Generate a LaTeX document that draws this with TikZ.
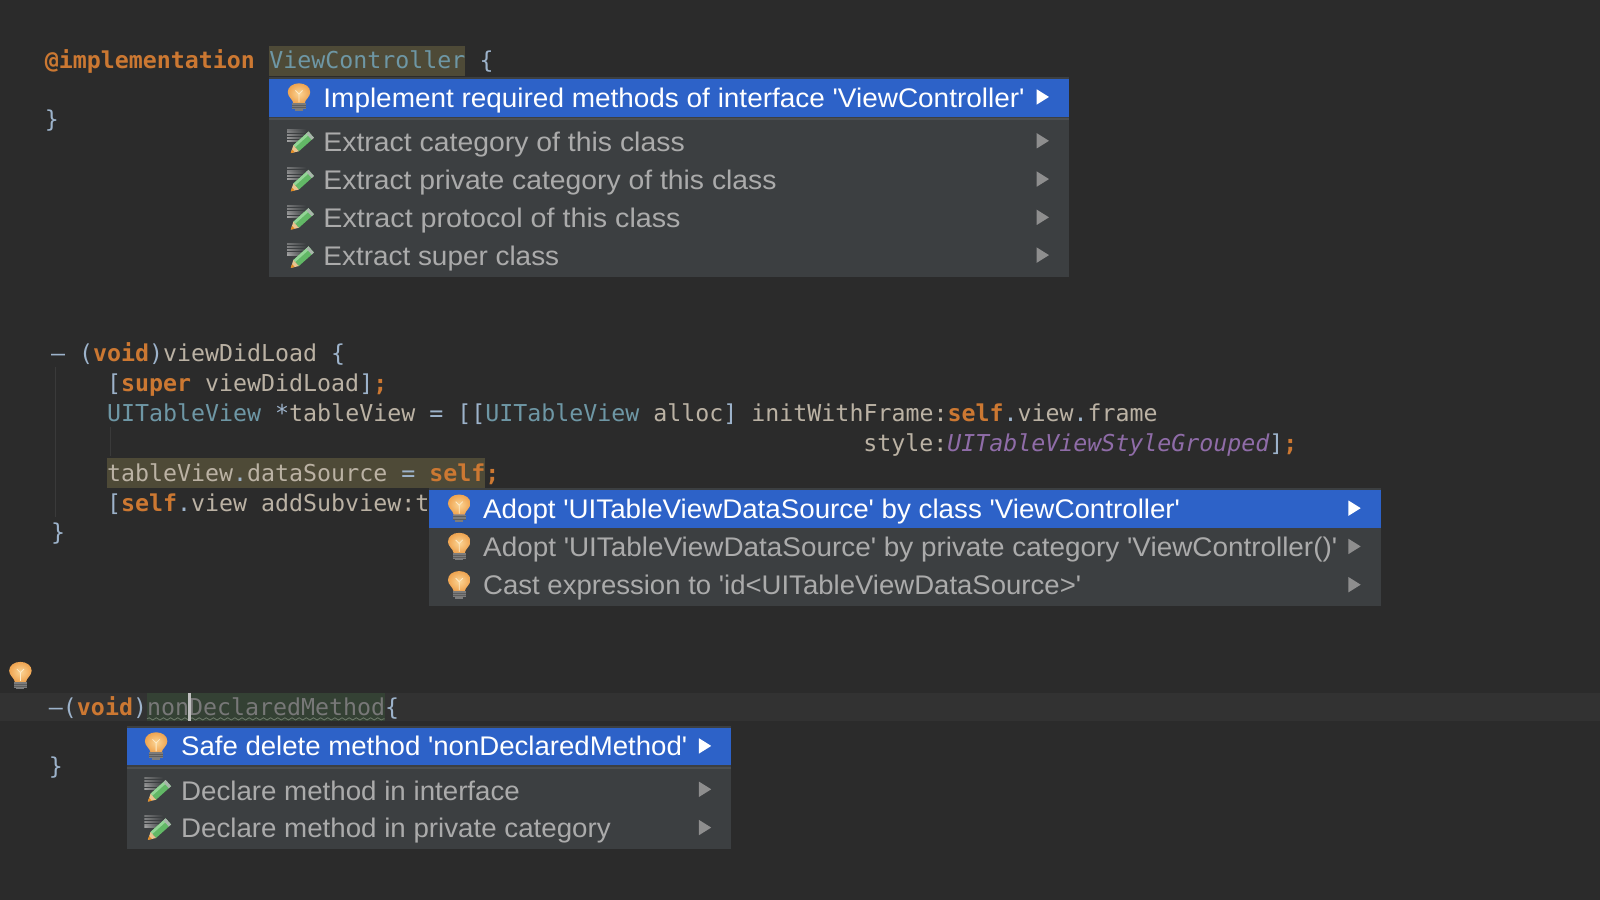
\documentclass[tikz,border=0pt]{standalone}
\usepackage{fontspec}
\usepackage{graphicx}
\usetikzlibrary{decorations.pathmorphing}
\newfontfamily\menufont{Liberation Sans}
\newfontfamily\codefont{DejaVu Sans Mono}
\definecolor{bgc}{HTML}{2B2B2B}
\definecolor{curline}{HTML}{323232}
\definecolor{kwc}{HTML}{CC7832}
\definecolor{clsc}{HTML}{6E97A5}
\definecolor{idc}{HTML}{BBB2A4}
\definecolor{pnc}{HTML}{9DB3CB}
\definecolor{enumc}{HTML}{8F6CA8}
\definecolor{unusedc}{HTML}{787878}
\definecolor{wavec}{HTML}{6E7A6A}
\definecolor{selc}{HTML}{4E4A37}
\definecolor{unselc}{HTML}{344134}
\definecolor{popc}{HTML}{3C3F41}
\definecolor{bluec}{HTML}{2D62C8}
\definecolor{sepc}{HTML}{4C4F51}
\definecolor{itemc}{HTML}{ABABAB}
\definecolor{arrc}{HTML}{8E8E8E}
\definecolor{guidec}{HTML}{3A3A3A}
\definecolor{bulbin}{HTML}{FBD596}
\definecolor{bulbout}{HTML}{EFA450}
\definecolor{bulbfil}{HTML}{FDEBC8}
\definecolor{bulbbase}{HTML}{7C7C7C}
\definecolor{bulbline}{HTML}{5E5E5E}
\definecolor{pengreen}{HTML}{62B866}
\definecolor{penlight}{HTML}{93D596}
\definecolor{penend}{HTML}{A9B5AB}
\definecolor{penwood}{HTML}{E8C490}
\definecolor{pentip}{HTML}{E58A1F}
\definecolor{penrule}{HTML}{A8A8A8}
\newcommand{\kw}[1]{\textcolor{kwc}{\bfseries #1}}
\newcommand{\cls}[1]{\textcolor{clsc}{#1}}
\newcommand{\idn}[1]{\textcolor{idc}{#1}}
\newcommand{\pn}[1]{\textcolor{pnc}{#1}}
\newcommand{\enm}[1]{\textcolor{enumc}{\itshape #1}}
\newcommand{\menuitem}[6]{\node[#1] (#2) at (#3,#4) {\resizebox{#5pt}{\height}{#6}};}
\newcommand{\arrowmark}[3]{\fill[#3] (#1,#2-7.5) -- (#1+12,#2) -- (#1,#2+7.5) -- cycle;}
\tikzset{
  x=1pt,y=-1pt,
  code/.style={anchor=base west,inner sep=0pt,outer sep=0pt,font=\codefont\fontsize{22.8}{27}\selectfont},
  mitem/.style={anchor=base west,inner sep=0pt,outer sep=0pt,text=itemc,font=\menufont\fontsize{26.4}{30}\selectfont},
  mitemsel/.style={mitem,text=white},
  bulbicon/.pic={
    \begin{scope}[shift={(0,1)},yscale=0.87]
    \shade[inner color=bulbin,outer color=bulbout]
      (-5.5,6) .. controls (-6,1.5) and (-11,-1) .. (-11,-6.5)
      .. controls (-11,-12.5) and (-6,-16.5) .. (0,-16.5)
      .. controls (6,-16.5) and (11,-12.5) .. (11,-6.5)
      .. controls (11,-1) and (6,1.5) .. (5.5,6) -- cycle;
    \draw[bulbfil,line width=0.8pt] (-3.5,-8.5) -- (0,-4.5) -- (3.5,-8.5) (0,-4.5) -- (0,5);
    \fill[bulbbase] (-6.5,6) rectangle (6.5,12.5);
    \fill[bulbbase] (-4,12.5) rectangle (4,14.5);
    \draw[bulbline,line width=0.8pt] (-6.5,8.6) -- (6.5,8.6) (-6.5,11) -- (6.5,11);
    \end{scope}
  },
  pencilicon/.pic={
    \foreach \yy/\op in {-11/0.55,-8.3/0.65,-5.6/0.75,-2.9/0.85,-0.2/0.95}{
      \shade[left color=penrule,right color=popc,opacity=\op] (-11.5,\yy-0.45) rectangle (7,\yy+0.45);
    }
    \fill[pengreen] (-0.12,10.27) -- (14.68,-3.03) -- (9.32,-8.97) -- (-5.48,4.33) -- cycle;
    \fill[penlight] (-3.7,6.3) -- (11.1,-7) -- (9.32,-8.97) -- (-5.48,4.33) -- cycle;
    \fill[penend] (12.45,-1.03) -- (14.68,-3.03) -- (9.32,-8.97) -- (7.09,-6.97) -- cycle;
    \fill[penwood] (-8,12) -- (-0.12,10.27) -- (-5.48,4.33) -- cycle;
    \fill[pentip] (-8,12) -- (-4.2,11.2) -- (-6.8,8.4) -- cycle;
  }
}
\begin{document}
\begin{tikzpicture}
\fill[bgc] (0,0) rectangle (1568,882);
\useasboundingbox (0,0) rectangle (1568,882);
% highlights and guides
\fill[selc] (264,45) rectangle (456,74);
\fill[selc] (105,449) rectangle (475,478);
\fill[curline] (0,679) rectangle (1568,707);
\fill[unselc] (144,679) rectangle (377,707);
\draw[guidec,line width=1pt] (54,360) -- (54,507);
\draw[guidec,line width=1pt] (108.5,418) -- (108.5,447);
% code
\node[code] (impl) at (44,67) {\kw{@implementation}};
\node[code] (vc) at (264,67) {\cls{ViewController}};
\node[code] (open1) at (470,67) {\pn{\{}};
\node[code] (close1) at (44,125) {\pn{\}}};
\node[code] (vdl) at (50,354) {\pn{– (}\kw{void}\pn{)}\idn{viewDidLoad} \pn{\{}};
\node[code] (sup) at (105,384) {\pn{[}\kw{super} \idn{viewDidLoad}\pn{]}\kw{;}};
\node[code] (tv) at (105,413) {\cls{UITableView} \pn{*}\idn{tableView} \pn{=} \pn{[[}\cls{UITableView} \idn{alloc}\pn{]} \idn{initWithFrame:}\kw{self}\pn{.}\idn{view}\pn{.}\idn{frame}};
\node[code] (sty) at (846,442) {\idn{style:}\enm{UITableViewStyleGrouped}\pn{]}\kw{;}};
\node[code] (ds) at (105,472) {\idn{tableView}\pn{.}\idn{dataSource} \pn{=} \kw{self;}};
\node[code] (adds) at (105,501) {\pn{[}\kw{self}\pn{.}\idn{view addSubview:t}};
\node[code] (close2) at (50,530) {\pn{\}}};
\node[code] (ndm) at (48,701) {\pn{–(}\kw{void}\pn{)}\textcolor{unusedc}{nonDeclaredMethod}\pn{\{}};
\node[code] (close3) at (48,759) {\pn{\}}};
\draw[wavec,line width=0.8pt,decorate,decoration={snake,amplitude=1.1pt,segment length=7pt}] (144,704.5) -- (377,704.5);
\fill[black!25!white] (184.5,679) rectangle (187.5,707);
% gutter bulb
\pic at (20,662) {bulbicon};
% popup 1
\fill[popc] (264,75) rectangle (1048,271);
\fill[bluec] (264,77.5) rectangle (1048,114.5);
\fill[sepc] (264,116) rectangle (1048,118);
\pic at (293,95) {bulbicon};
\menuitem{mitemsel}{p1a}{317}{105}{687}{Implement required methods of interface 'ViewController'}
\arrowmark{1016}{95}{white}
\pic at (293,138) {pencilicon};
\menuitem{mitem}{p1b}{317}{148}{354}{Extract category of this class}
\arrowmark{1016}{138}{arrc}
\pic at (293,175.5) {pencilicon};
\menuitem{mitem}{p1c}{317}{185.5}{444}{Extract private category of this class}
\arrowmark{1016}{175.5}{arrc}
\pic at (293,213) {pencilicon};
\menuitem{mitem}{p1d}{317}{223}{350}{Extract protocol of this class}
\arrowmark{1016}{213}{arrc}
\pic at (293,250.5) {pencilicon};
\menuitem{mitem}{p1e}{317}{260.5}{231}{Extract super class}
\arrowmark{1016}{250}{arrc}
% popup 2
\fill[popc] (420,478) rectangle (1353,594);
\fill[bluec] (420,480) rectangle (1353,517);
\pic at (450,498) {bulbicon};
\menuitem{mitemsel}{p2a}{473.5}{508}{683}{Adopt 'UITableViewDataSource' by class 'ViewController'}
\arrowmark{1321.5}{498}{white}
\pic at (450,535.5) {bulbicon};
\menuitem{mitem}{p2b}{473.5}{545.5}{837}{Adopt 'UITableViewDataSource' by private category 'ViewController()'}
\arrowmark{1321.5}{535.5}{arrc}
\pic at (450,573) {bulbicon};
\menuitem{mitem}{p2c}{473.5}{583}{586}{Cast expression to 'id<UITableViewDataSource>'}
\arrowmark{1321.5}{573}{arrc}
% popup 3
\fill[popc] (124,711) rectangle (716,832);
\fill[bluec] (124,713) rectangle (716,750);
\fill[sepc] (124,751.5) rectangle (716,753.5);
\pic at (153,731) {bulbicon};
\menuitem{mitemsel}{p3a}{177.5}{740}{496}{Safe delete method 'nonDeclaredMethod'}
\arrowmark{685}{731}{white}
\pic at (153,773.5) {pencilicon};
\menuitem{mitem}{p3b}{177.5}{784}{332}{Declare method in interface}
\arrowmark{685}{773.5}{arrc}
\pic at (153,811) {pencilicon};
\menuitem{mitem}{p3c}{177.5}{820.5}{421}{Declare method in private category}
\arrowmark{685}{811}{arrc}
\end{tikzpicture}
\end{document}
